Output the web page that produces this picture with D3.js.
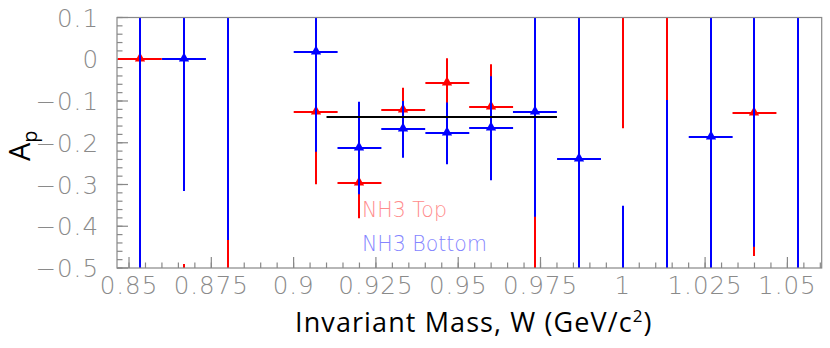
<!DOCTYPE html>
<html>
<head>
<meta charset="utf-8">
<style>
body { margin: 0; background: #fff; }
.tick-label { font-family: "DejaVu Sans", sans-serif; font-weight: 200; fill: #8a8a8a; font-size: 24.5px; }
.title { font-family: "Open Sans", "Liberation Sans", sans-serif; fill: #000; }
</style>
</head>
<body>
<svg id="chart" width="830" height="348"></svg>
<script src="https://cdn.jsdelivr.net/npm/d3@7"></script>
<script>
// bin centres (W, GeV/c^2)
var binCenters = [0.8533, 0.8667, 0.88, 0.9067, 0.92, 0.9333, 0.9467, 0.96, 0.9733, 0.9867, 1.0, 1.0133, 1.0267, 1.04, 1.0533];
var binHalfWidth = 0.00667;

// NH3 Top (red)
var topValues = [0, -0.8, -0.7, -0.1256, -0.297, -0.1216, -0.0577, -0.1137, -0.65, -0.8, 0.3, 0.25, 0.35, -0.128, 0.4];
var topErrors = [0.6, 0.3095, 0.5, 0.174, 0.084, 0.0535, 0.06, 0.1015, 0.6, 0.48, 0.4655, 0.3476, 0.6, 0.343, 1.0];

// NH3 Bottom (blue)
var botValues = [-0.8, 0, 0.3, 0.018, -0.2125, -0.168, -0.1774, -0.1655, -0.1256, -0.239, -0.75, -0.8, -0.187, 0.3, 0.6];
var botErrors = [1.0, 0.3155, 0.733, 0.2395, 0.111, 0.068, 0.0738, 0.1245, 0.2515, 0.45, 0.399, 0.7024, 0.4, 0.749, 1.2];

// constant fit
var fitRange = [0.91, 0.98];
var fitValue = -0.139;

var xTicks = [0.85, 0.875, 0.9, 0.925, 0.95, 0.975, 1.0, 1.025, 1.05];
var yTicks = [0.1, 0, -0.1, -0.2, -0.3, -0.4, -0.5];

// plot box (note: "top" is reserved on window)
var pLeft = 117, pRight = 821.7, pTop = 17.5, pBottom = 268;

var svg = d3.select('#chart');

var x = d3.scaleLinear().domain([0.84635, 1.06042]).range([pLeft, pRight]);
var y = d3.scaleLinear().domain([-0.5, 0.1]).range([pBottom, pTop]);

svg.append('defs').append('clipPath').attr('id', 'plotclip')
  .append('rect').attr('x', pLeft).attr('y', pTop)
  .attr('width', pRight - pLeft).attr('height', pBottom - pTop);

// minor ticks
var xMinor = d3.range(0.85, 1.0601, 0.005);
var yMinor = d3.range(-0.5, 0.1001, 0.02);

var axes = svg.append('g').attr('stroke', '#888').attr('stroke-width', 1.2);
xMinor.forEach(function(v) {
  if (x(v) < pLeft || x(v) > pRight) return;
  axes.append('line').attr('x1', x(v)).attr('x2', x(v))
    .attr('y1', pBottom).attr('y2', pBottom - 5.5);
});
xTicks.forEach(function(v) {
  axes.append('line').attr('x1', x(v)).attr('x2', x(v))
    .attr('y1', pBottom).attr('y2', pBottom - 11);
});
yMinor.forEach(function(v) {
  axes.append('line').attr('y1', y(v)).attr('y2', y(v))
    .attr('x1', pLeft).attr('x2', pLeft + 5.5);
});
yTicks.forEach(function(v) {
  axes.append('line').attr('y1', y(v)).attr('y2', y(v))
    .attr('x1', pLeft).attr('x2', pLeft + 11);
});

function fmt(v) {
  var s = String(+v.toFixed(3));
  return s.replace('-', '\u2212');
}

svg.append('g').selectAll('text').data(xTicks).join('text')
  .attr('class', 'tick-label')
  .attr('x', function(d) { return x(d); })
  .attr('y', 294)
  .attr('text-anchor', 'middle')
  .attr('letter-spacing', 1)
  .text(fmt);

svg.append('g').selectAll('text').data(yTicks).join('text')
  .attr('class', 'tick-label')
  .attr('x', 99)
  .attr('y', function(d) { return y(d) + 9; })
  .attr('text-anchor', 'end')
  .attr('letter-spacing', 1)
  .text(fmt);

var plot = svg.append('g').attr('clip-path', 'url(#plotclip)');

// snap to whole pixels so the 2px bars stay crisp
function px(v) { return Math.round(v); }

function drawSeries(values, errors, color) {
  var g = plot.append('g');
  binCenters.forEach(function(c, i) {
    var v = values[i], e = errors[i];
    g.append('line')
      .attr('x1', px(x(c))).attr('x2', px(x(c)))
      .attr('y1', y(v - e)).attr('y2', y(v + e))
      .attr('stroke', color).attr('stroke-width', 2);
    g.append('line')
      .attr('x1', x(c - binHalfWidth)).attr('x2', x(c + binHalfWidth))
      .attr('y1', px(y(v))).attr('y2', px(y(v)))
      .attr('stroke', color).attr('stroke-width', 2);
  });
  g.selectAll('path.marker').data(binCenters).join('path')
    .attr('class', 'marker')
    .attr('d', d3.symbol(d3.symbolTriangle, 46))
    .attr('transform', function(c, i) { return 'translate(' + px(x(c)) + ',' + (px(y(values[i])) - 0.5) + ')'; })
    .attr('fill', color);
}

drawSeries(topValues, topErrors, '#ff0000');
drawSeries(botValues, botErrors, '#0000ff');

plot.append('line')
  .attr('x1', x(fitRange[0])).attr('x2', x(fitRange[1]))
  .attr('y1', px(y(fitValue))).attr('y2', px(y(fitValue)))
  .attr('stroke', '#000').attr('stroke-width', 2);

// frame
svg.append('rect').attr('x', pLeft).attr('y', pTop)
  .attr('width', pRight - pLeft).attr('height', pBottom - pTop)
  .attr('fill', 'none').attr('stroke', '#888').attr('stroke-width', 1.2);

// legend labels
svg.append('text').attr('class', 'tick-label').attr('x', 362).attr('y', 217)
  .style('font-size', '20.5px').style('fill', '#ff8c8c').text('NH3 Top');
svg.append('text').attr('class', 'tick-label').attr('x', 362).attr('y', 251)
  .style('font-size', '20.5px').style('fill', '#8585ff').text('NH3 Bottom');

// axis titles
var xt = svg.append('text').attr('class', 'title').attr('x', 295).attr('y', 332)
  .attr('letter-spacing', 1.1)
  .style('font-size', '27px');
xt.append('tspan').text('Invariant Mass, W (GeV/c');
xt.append('tspan').attr('dy', -10).style('font-size', '17px').text('2');
xt.append('tspan').attr('dy', 10).text(')');

var yt = svg.append('text').attr('class', 'title')
  .attr('transform', 'translate(30,161) rotate(-90)')
  .style('font-size', '29px');
yt.append('tspan').text('A');
yt.append('tspan').attr('dy', 7).style('font-size', '20px').text('p');
</script>
</body>
</html>
